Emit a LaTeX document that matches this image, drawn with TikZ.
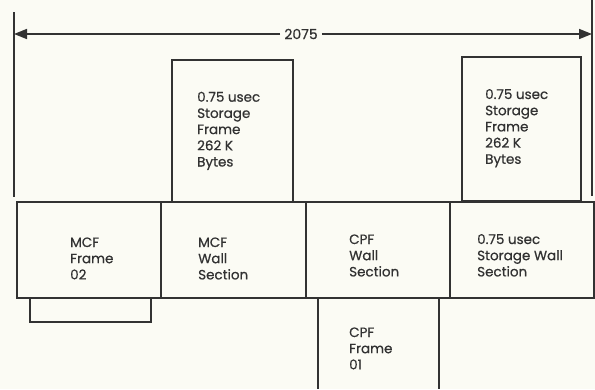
\documentclass[tikz,border=0pt]{standalone}
\usepackage{fontspec}
\setmainfont{Poppins}[FakeBold=0.6]
\usetikzlibrary{arrows.meta}
\definecolor{paper}{RGB}{251,251,244}
\definecolor{ink}{RGB}{50,50,50}
\newcommand\txtlines[1]{\begin{tabular}[t]{@{}l@{}}#1\end{tabular}}
\begin{document}
\begin{tikzpicture}[x=1pt,y=-1pt,
  line/.style={draw=ink,line width=1.6pt},
  tip/.style={-{Triangle[length=13pt,width=10pt]}},
  lbl/.style={anchor=base west,inner sep=0pt,text=ink,font=\fontsize{13.5}{16.2}\selectfont},
  dimlbl/.style={inner xsep=4pt,inner ysep=0pt,text=ink,font=\fontsize{14}{16}\selectfont}]
\fill[paper] (0,0) rectangle (595,389);
\useasboundingbox (0,0) rectangle (595,389);
% dimension line
\coordinate (L1) at (14,12);
\coordinate (L2) at (14,197);
\coordinate (R1) at (592,0);
\coordinate (R2) at (592,196);
\coordinate (AL) at (14,34);
\coordinate (AR) at (592,34);
\draw[line] (L1) -- (L2);
\draw[line] (R1) -- (R2);
\node[dimlbl] (dim) at (301,34) {2075};
\draw[line,tip] (dim.west) -- (AL);
\draw[line,tip] (dim.east) -- (AR);
% storage frames
\draw[line] (172,60) rectangle (293,202);
\draw[line] (462,57) rectangle (581,201);
% wall row
\draw[line] (17,202) rectangle (161,298);
\draw[line] (161,202) rectangle (306,298);
\draw[line] (306,202) rectangle (450,298);
\draw[line] (450,202) rectangle (594,298);
% tab under MCF frame
\draw[line] (30,298) -- (30,322) -- (151,322) -- (151,298);
% CPF frame 01
\draw[line] (318,298) -- (318,389);
\draw[line] (439,298) -- (439,389);
% texts
\node[lbl] (t1) at (70,247) {\txtlines{MCF\\Frame\\02}};
\node[lbl] (t2) at (198,247) {\txtlines{MCF\\Wall\\Section}};
\node[lbl] (t3) at (349,244) {\txtlines{CPF\\Wall\\Section}};
\node[lbl] (t4) at (477,244) {\txtlines{0.75 usec\\Storage Wall\\Section}};
\node[lbl] (t5) at (349,337) {\txtlines{CPF\\Frame\\01}};
\node[lbl] (t6) at (197,101.7) {\txtlines{0.75 usec\\Storage\\Frame\\262 K\\Bytes}};
\node[lbl] (t7) at (485,99) {\txtlines{0.75 usec\\Storage\\Frame\\262 K\\Bytes}};
\end{tikzpicture}
\end{document}
